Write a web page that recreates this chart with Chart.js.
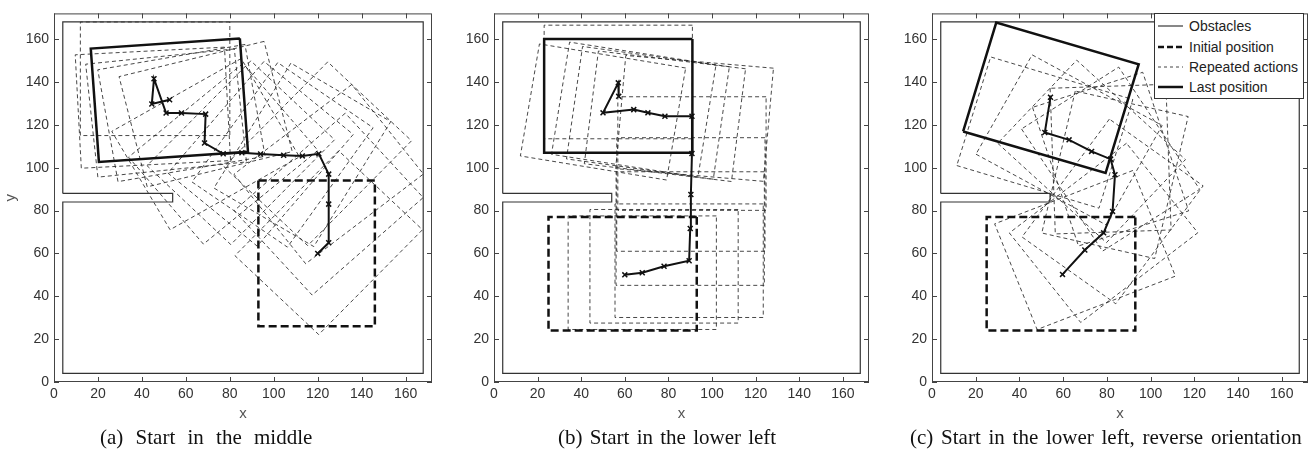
<!DOCTYPE html>
<html>
<head>
<meta charset="utf-8">
<script src="https://cdn.jsdelivr.net/npm/chart.js@4.4.1/dist/chart.umd.min.js"></script>
<style>
  body { margin: 0; background: #fff; width: 1315px; height: 453px; position: relative; overflow: hidden; }
  canvas { position: absolute; top: 0; }
  .cap { position: absolute; top: 424px; font-family: 'Liberation Serif', 'Times New Roman', serif; font-size: 21px; line-height: 26px; color: #111; white-space: nowrap; }
  #legend { position: absolute; left: 1154px; top: 13px; width: 150px; height: 86px; box-sizing: border-box; border: 1px solid #333; background: #fff; padding-top: 2px; font-family: 'Liberation Sans', Arial, sans-serif; font-size: 14px; color: #222; }
  #legend .row { height: 20.4px; display: flex; align-items: center; }
  #legend svg { margin-left: 3px; margin-right: 6px; }
</style>
</head>
<body>
<canvas id="chartA" width="440" height="425" style="left:0px"></canvas>
<canvas id="chartB" width="435" height="425" style="left:440px"></canvas>
<canvas id="chartC" width="440" height="425" style="left:875px"></canvas>

<div class="cap" style="left:100px; word-spacing:7px">(a) Start in the middle</div>
<div class="cap" style="left:558px; word-spacing:2px">(b) Start in the lower left</div>
<div class="cap" style="left:910px; word-spacing:2.5px">(c) Start in the lower left, reverse orientation</div>

<div id="legend">
  <div class="row"><svg width="25" height="6"><line x1="0" y1="3" x2="25" y2="3" stroke="#111" stroke-width="1"/></svg><span>Obstacles</span></div>
  <div class="row"><svg width="25" height="6"><line x1="0" y1="3" x2="25" y2="3" stroke="#111" stroke-width="2.5" stroke-dasharray="6 3"/></svg><span>Initial position</span></div>
  <div class="row"><svg width="25" height="6"><line x1="0" y1="3" x2="25" y2="3" stroke="#444" stroke-width="1" stroke-dasharray="3 3"/></svg><span>Repeated actions</span></div>
  <div class="row"><svg width="25" height="6"><line x1="0" y1="3" x2="25" y2="3" stroke="#111" stroke-width="2.5"/></svg><span>Last position</span></div>
</div>

<script>
const tickValues = [0, 20, 40, 60, 80, 100, 120, 140, 160];
const axisMax = 172;
const robotLength = 68;
const robotWidth = 53;

const obstacleX = [4, 4, 168, 168, 4, 4, 54, 54, 4];
const obstacleY = [88, 168, 168, 4, 4, 84, 84, 88, 88];

// (a) start in the middle -- poses are [centre x, centre y, heading deg]
const pathAX = [120, 125, 125, 125, 120.5, 113, 104.5, 94, 85.5, 77, 68.5, 69, 58, 51, 45.5, 44.5, 52.6];
const pathAY = [60, 65, 83, 97, 106.5, 105.5, 105.8, 106.4, 107, 106.5, 111.5, 125, 125.5, 125.5, 141.5, 129.7, 131.7];
const startA = [119.5, 60, 90];
const endA = [52.5, 131.5, 4];
const repeatAX = [125, 125, 125, 120, 113, 104, 94, 85, 77, 69, 69, 58, 51, 46, 45];
const repeatAY = [65, 83, 97, 106.5, 106, 106, 106.5, 107, 106.5, 111, 125, 125.5, 125.5, 141.5, 128];
const repeatAAngle = [46, 42, 38, 46, 59, 55, 50, 46, 40, 30, 14, 10, 6, 0, 3];

// (b) start in the lower left
const pathBX = [60, 68, 78, 89.5, 90, 90.3, 90.8, 90.8, 78.4, 70.6, 64.1, 50, 57, 57.2];
const pathBY = [50, 51, 54, 56.6, 71.6, 87.5, 106.6, 124, 124, 125.6, 127.1, 125.6, 139.6, 133.3];
const startB = [59, 50.5, 0];
const endB = [57, 133.5, 0];
const repeatBX = [68, 78, 89.5, 90, 90.3, 90.8, 92, 78.4, 70.6, 64.1, 50, 57];
const repeatBY = [51, 54, 56.6, 71.6, 87.5, 106.6, 123, 124, 125.6, 127.1, 126, 140];
const repeatBAngle = [0, 0, 0, 0, 0, 0, -5, -7, -8, -9, -9.5, 0];

// (c) start in the lower left, reverse orientation
const pathCX = [59.7, 69.9, 78.5, 82.6, 83.7, 81.7, 73, 62.7, 51.6, 54.2];
const pathCY = [50.2, 61.6, 69.6, 79.6, 96.7, 104, 107.6, 113, 116.4, 132.9];
const startC = [59, 50.5, 0];
const endC = [54.4, 132.6, 163.4];
const repeatCX = [70, 78.5, 82.6, 83.7, 81.7, 81.7, 81.7, 73, 62.7, 51.6];
const repeatCY = [61.6, 69.6, 79.6, 96.7, 104, 104, 104, 107.6, 113, 116.4];
const repeatCAngle = [21.5, 38, 54, 77, 92, 108, 123, 137, 151, 163];

const FONT = "'Liberation Sans', Arial, sans-serif";
Chart.defaults.font.family = FONT;

// corners of the robot footprint for a pose, closed
function robotOutline(cx, cy, deg) {
  const t = deg * Math.PI / 180;
  const ux = Math.cos(t), uy = Math.sin(t);
  const hl = robotLength / 2, hw = robotWidth / 2;
  const corners = [[hl, hw], [-hl, hw], [-hl, -hw], [hl, -hw], [hl, hw]];
  return corners.map(([a, b]) => ({ x: cx + a * ux - b * uy, y: cy + a * uy + b * ux }));
}

// matlab style box with inward ticks
const frameTicks = {
  id: 'frameTicks',
  afterDraw(chart) {
    const { ctx, chartArea: a, scales: { x, y } } = chart;
    ctx.save();
    ctx.strokeStyle = '#444';
    ctx.lineWidth = 1;
    ctx.strokeRect(a.left + 0.5, a.top + 0.5, a.right - a.left - 1, a.bottom - a.top - 1);
    ctx.beginPath();
    tickValues.forEach(v => {
      const px = Math.round(x.getPixelForValue(v)) + 0.5;
      ctx.moveTo(px, a.bottom); ctx.lineTo(px, a.bottom - 5);
      ctx.moveTo(px, a.top); ctx.lineTo(px, a.top + 5);
      const py = Math.round(y.getPixelForValue(v)) + 0.5;
      ctx.moveTo(a.left, py); ctx.lineTo(a.left + 5, py);
      ctx.moveTo(a.right, py); ctx.lineTo(a.right - 5, py);
    });
    ctx.stroke();
    ctx.restore();
  }
};

function makeChart(id, p) {
  const datasets = [
    {
      label: 'Path',
      data: p.pathX.map((x, i) => ({ x, y: p.pathY[i] })),
      showLine: true, borderColor: '#111', borderWidth: 2,
      pointStyle: 'crossRot', pointRadius: 3.5, pointBorderWidth: 1.5,
      pointBorderColor: '#111', pointBackgroundColor: '#111', order: 0
    },
    {
      label: 'Last position', data: robotOutline(...p.end),
      showLine: true, borderColor: '#111', borderWidth: 2.5, pointRadius: 0, order: 1
    },
    {
      label: 'Initial position', data: robotOutline(...p.start),
      showLine: true, borderColor: '#111', borderWidth: 2.5, borderDash: [8, 4], pointRadius: 0, order: 2
    },
    {
      label: 'Obstacles', data: obstacleX.map((x, i) => ({ x, y: obstacleY[i] })),
      showLine: true, borderColor: '#333', borderWidth: 1.2, pointRadius: 0, order: 3
    },
    ...p.repX.map((x, i) => ({
      label: 'Repeated actions', data: robotOutline(x, p.repY[i], p.repA[i]),
      showLine: true, borderColor: 'rgba(40,40,40,0.85)', borderWidth: 1,
      borderDash: [4, 3], pointRadius: 0, order: 4
    }))
  ];

  const tickFont = { family: FONT, size: 14 };
  new Chart(document.getElementById(id), {
    type: 'scatter',
    data: { datasets },
    options: {
      responsive: false,
      animation: false,
      devicePixelRatio: 1,
      layout: { padding: { top: 5, right: p.padRight, bottom: 0, left: 0 } },
      plugins: { legend: { display: false }, tooltip: { enabled: false } },
      scales: {
        x: {
          type: 'linear', min: 0, max: axisMax,
          afterBuildTicks: s => { s.ticks = tickValues.map(v => ({ value: v })); },
          afterFit: s => { s.height = 43; },
          grid: { display: false, drawTicks: false },
          border: { display: false },
          ticks: { color: '#333', font: tickFont, padding: 4, maxRotation: 0, autoSkip: false },
          title: { display: true, text: 'x', color: '#555', font: { family: FONT, size: 15 }, padding: { top: 2, bottom: 2 } }
        },
        y: {
          type: 'linear', min: 0, max: axisMax,
          afterBuildTicks: s => { s.ticks = tickValues.map(v => ({ value: v })); },
          afterFit: s => { s.width = p.yWidth; },
          grid: { display: false, drawTicks: false },
          border: { display: false },
          ticks: { color: '#333', font: tickFont, padding: 5, autoSkip: false },
          title: { display: p.yTitle, text: 'y', color: '#555', font: { family: FONT, size: 15 }, padding: { top: 2, bottom: 2 } }
        }
      }
    },
    plugins: [frameTicks]
  });
}

makeChart('chartA', { pathX: pathAX, pathY: pathAY, start: startA, end: endA,
  repX: repeatAX, repY: repeatAY, repA: repeatAAngle, yWidth: 54, padRight: 8, yTitle: true });
makeChart('chartB', { pathX: pathBX, pathY: pathBY, start: startB, end: endB,
  repX: repeatBX, repY: repeatBY, repA: repeatBAngle, yWidth: 54, padRight: 6, yTitle: false });
makeChart('chartC', { pathX: pathCX, pathY: pathCY, start: startC, end: endC,
  repX: repeatCX, repY: repeatCY, repA: repeatCAngle, yWidth: 57, padRight: 7, yTitle: false });
</script>
</body>
</html>
